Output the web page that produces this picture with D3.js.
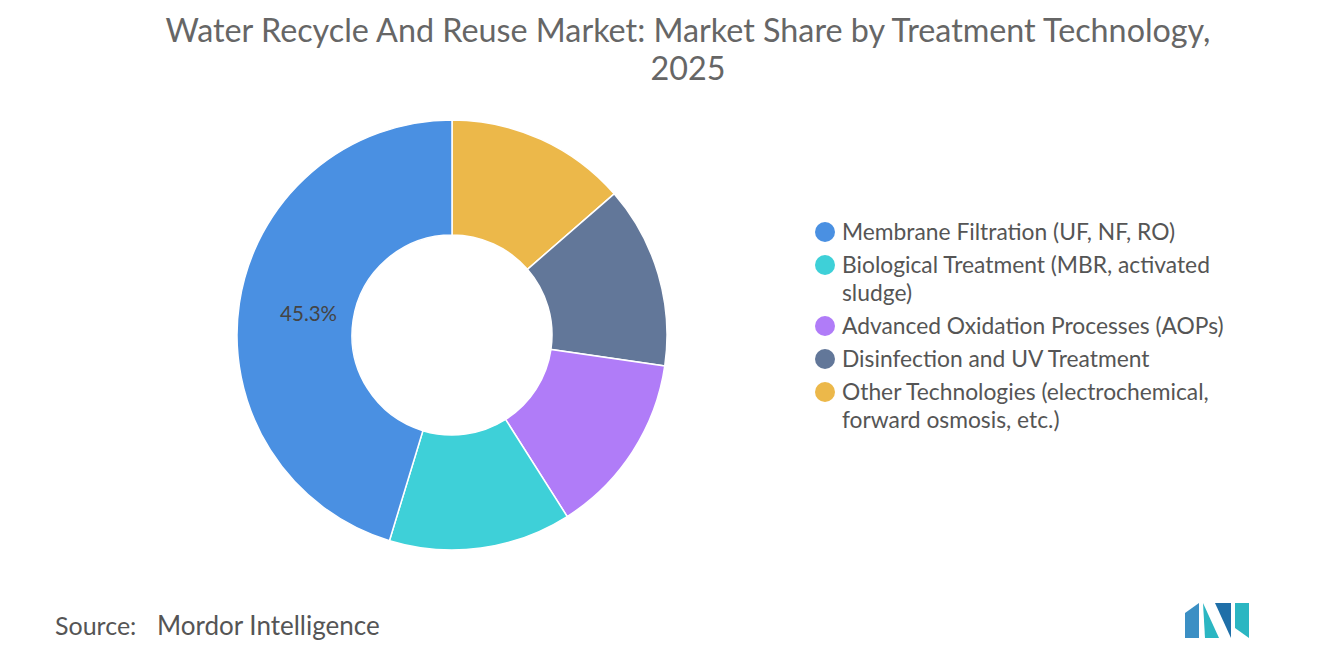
<!DOCTYPE html>
<html><head><meta charset="utf-8">
<script src="https://cdn.jsdelivr.net/npm/d3@7"></script>
<style>body{margin:0;background:#fff}text{font-family:Lato,"Open Sans",sans-serif}</style>
</head><body><svg id="c" width="1320" height="665"></svg>
<script>
const categories = ["Other Technologies (electrochemical, forward osmosis, etc.)","Disinfection and UV Treatment","Advanced Oxidation Processes (AOPs)","Biological Treatment (MBR, activated sludge)","Membrane Filtration (UF, NF, RO)"];
const values = [13.6, 13.7, 13.7, 13.7, 45.3];
const legendOrder = [4,3,2,1,0];
const legendLines = [["Membrane Filtration (UF, NF, RO)"],["Biological Treatment (MBR, activated","sludge)"],["Advanced Oxidation Processes (AOPs)"],["Disinfection and UV Treatment"],["Other Technologies (electrochemical,","forward osmosis, etc.)"]];
const colors = ["#ecb84a","#627799","#b07cf8","#3ed0d8","#4a90e2"];

const svg = d3.select("#c");
svg.append("text").attr("x",688).attr("y",42).attr("text-anchor","middle").attr("font-size",32.3).attr("fill","#666").text("Water Recycle And Reuse Market: Market Share by Treatment Technology,");
svg.append("text").attr("x",688).attr("y",80).attr("text-anchor","middle").attr("font-size",32.3).attr("fill","#666").text("2025");

const g = svg.append("g").attr("transform","translate(452,335)");
const pie = d3.pie().sort(null).value(d=>d);
const arc = d3.arc().innerRadius(100).outerRadius(215);
const arcs = pie(values);
g.selectAll("path").data(arcs).enter().append("path").attr("d",arc).attr("fill",(d,i)=>colors[i]).attr("stroke","#fff").attr("stroke-width",1.5);
const m = arcs[4];
const lab = d3.arc().innerRadius(145).outerRadius(145);
const c = lab.centroid(m);
g.append("text").attr("x",c[0]).attr("y",c[1]).attr("text-anchor","middle").attr("dy","0.35em").attr("font-size",20.5).attr("fill","#444").text("45.3%");

let y = 232;
legendOrder.forEach((idx,k)=>{
  const lg = svg.append("g");
  lg.append("circle").attr("cx",825).attr("cy",y).attr("r",10).attr("fill",colors[idx]);
  legendLines[k].forEach((t,j)=>{
    lg.append("text").attr("x",842).attr("y",y+j*28).attr("dy","0.35em").attr("font-size",22.8).attr("fill","#555").text(t);
  });
  y += legendLines[k].length*28 + 5;
});

svg.append("text").attr("x",55).attr("y",635).attr("font-size",25).attr("fill","#555").text("Source:");
svg.append("text").attr("x",157).attr("y",635).attr("font-size",26).attr("fill","#555").text("Mordor Intelligence");
const lg = svg.append("g").attr("transform","translate(1185,603)");
lg.append("path").attr("d","M0,35 L0,10 L14,0 L14,35 Z").attr("fill","#3b8fc4");
lg.append("path").attr("d","M18,0 L34,35 L20,35 Z").attr("fill","#2bb6c2");
lg.append("path").attr("d","M30,0 L46,0 L46,35 Z").attr("fill","#1f6fa8");
lg.append("path").attr("d","M50,0 L64,0 L64,35 L50,25 Z").attr("fill","#2bb6c2");
</script></body></html>
